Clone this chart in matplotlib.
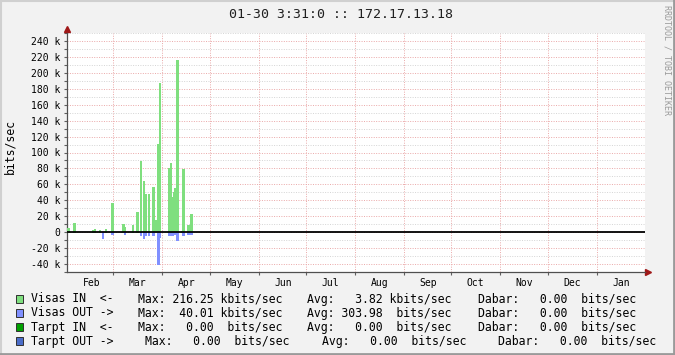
# RRDtool style traffic graph, one year, 172.17.13.18
import datetime
import numpy as np
import matplotlib
matplotlib.use("Agg")
import matplotlib.pyplot as plt
from matplotlib.patches import Rectangle
from matplotlib.lines import Line2D

# ---- data (kbits/sec, one bar per day counted from the graph start) ----
in_days = [0, 4, 16, 17, 20, 24, 28, 35, 36, 41, 44, 46, 48, 49, 51, 54, 56,
           57, 58, 64, 65, 66, 67, 68, 69, 72, 73, 76, 78]
in_vals = [5, 12, 3.3, 4.2, 2.9, 4.2, 36.8, 10.5, 6.7, 9.2, 25.5, 89.5, 64.4,
           48, 48, 57, 15.5, 111, 187.4, 80.8, 87, 44, 50.6, 55.6, 216.25,
           1.7, 79.5, 9.2, 23]
out_days = [22, 28, 36, 46, 48, 49, 51, 54, 57, 58, 64, 65, 66, 67, 68, 69,
            73, 76, 78]
out_vals = [6.7, 2, 2, 3, 7, 3, 3, 3, 40.01, 5.5, 4, 3.5, 3, 2.5, 2.5, 9.6,
            3, 2, 2]

start = datetime.datetime(2008, 1, 31, 17, 0)
ndays = 366
month_starts = [datetime.datetime(2008, m, 1) for m in range(3, 13)] + \
               [datetime.datetime(2009, 1, 1)]
label_months = [datetime.datetime(2008, m, 1) for m in range(2, 13)] + \
               [datetime.datetime(2009, 1, 1)]
month_names = ['Feb', 'Mar', 'Apr', 'May', 'Jun', 'Jul', 'Aug', 'Sep', 'Oct',
               'Nov', 'Dec', 'Jan']

title = "01-30 3:31:0 :: 172.17.13.18"
legend_names = ["Visas IN  <-", "Visas OUT ->", "Tarpt IN  <-", "Tarpt OUT ->"]
legend_max = ["Max: 216.25 kbits/sec", "Max:  40.01 kbits/sec",
              "Max:   0.00  bits/sec", "Max:   0.00  bits/sec"]
legend_avg = ["Avg:   3.82 kbits/sec", "Avg: 303.98  bits/sec",
              "Avg:   0.00  bits/sec", "Avg:   0.00  bits/sec"]
legend_cur = ["Dabar:   0.00  bits/sec"] * 4
legend_colors = ['#7fdf7f', '#8090ff', '#00a000', '#4a6cc8']

W, H = 675, 355
mono = 'DejaVu Sans Mono'
plt.rcParams['font.family'] = mono

def days_from_start(d):
    return (d - start).total_seconds() / 86400.0

fig = plt.figure(figsize=(W / 100, H / 100), dpi=100, facecolor='#f2f2f2')
ax = fig.add_axes([67 / W, 83 / H, 578 / W, 239 / H])
ax.set_facecolor('white')

# bars (pixel snapped, like rrdtool)
ax.bar(in_days, in_vals, width=1, align='edge', color=legend_colors[0],
       edgecolor=legend_colors[0], linewidth=0.4, antialiased=False, zorder=3)
ax.bar(out_days, -np.array(out_vals), width=1, align='edge', color=legend_colors[1],
       edgecolor=legend_colors[1], linewidth=0.4, antialiased=False, zorder=3)
ax.axhline(0, color='black', linewidth=1.3, zorder=4)

ax.set_xlim(0, ndays)
ax.set_ylim(-50, 250)

# y axis ticks / grid
ax.set_yticks(np.arange(-40, 241, 20))
ax.set_yticks(np.arange(-50, 251, 10), minor=True)
ax.set_yticklabels(['0' if v == 0 else '%d k' % v for v in np.arange(-40, 241, 20)])
ax.grid(axis='y', which='minor', color='#d4d4d4', linestyle=(0, (1, 1.5)), linewidth=0.7, zorder=1)
ax.grid(axis='y', which='major', color='#eaa8a8', linestyle=(0, (1, 1.5)), linewidth=0.7, zorder=2)

# x axis: grid at month starts, labels mid month
ax.set_xticks([days_from_start(d) for d in month_starts], minor=True)
ax.set_xticks([days_from_start(d) + 15.5 for d in label_months])
ax.set_xticklabels(month_names)
ax.grid(axis='x', which='minor', color='#eaa8a8', linestyle=(0, (1, 1.5)), linewidth=0.7, zorder=2)
ax.grid(axis='x', which='major', visible=False)

ax.tick_params(axis='y', which='both', length=2, width=0.8, color='#606060', pad=3, labelsize=7)
ax.tick_params(axis='x', which='major', length=0, pad=4, labelsize=7)
ax.tick_params(axis='x', which='minor', length=2, width=0.8, color='#606060')

for s in ['top', 'right']:
    ax.spines[s].set_visible(False)
for s in ['left', 'bottom']:
    ax.spines[s].set_color('#505050')
    ax.spines[s].set_linewidth(0.9)

# arrows at the end of the axes
ax.plot([0], [1.016], marker='^', color='#a01818', markersize=5, transform=ax.transAxes, clip_on=False)
ax.plot([1.006], [0], marker='>', color='#a01818', markersize=5, transform=ax.transAxes, clip_on=False)

# texts
fig.text(341 / W, 1 - 14 / H, title, ha='center', va='center', fontsize=9.5, color='#202020')
fig.text(10 / W, 1 - 147 / H, 'bits/sec', rotation=90, ha='center', va='center', fontsize=8.3)
fig.text(667 / W, 1 - 60 / H, 'RRDTOOL / TOBI OETIKER', rotation=270, ha='center', va='center',
         fontsize=6, color='#9a9a9a')

# legend rows
row_y = [299, 313, 327, 341]
col_x = [[137.7, 307.3, 477.7]] * 3 + [[145, 321.7, 498.3]]
for i in range(4):
    y = 1 - row_y[i] / H
    fig.patches.append(Rectangle((15.5 / W, y - 4 / H), 7.5 / W, 8 / H, transform=fig.transFigure,
                                 facecolor=legend_colors[i], edgecolor='#303030', linewidth=0.7))
    fig.text(31 / W, y, legend_names[i], va='center', fontsize=8.3)
    fig.text(col_x[i][0] / W, y, legend_max[i], va='center', fontsize=8.3)
    fig.text(col_x[i][1] / W, y, legend_avg[i], va='center', fontsize=8.3)
    fig.text(col_x[i][2] / W, y, legend_cur[i], va='center', fontsize=8.3)

# image border: light top/left, dark bottom/right
fig.lines.append(Line2D([0, 1], [1 - 1 / H, 1 - 1 / H], transform=fig.transFigure, color='#d0d0d0', linewidth=1.5))
fig.lines.append(Line2D([1 / W, 1 / W], [0, 1], transform=fig.transFigure, color='#d0d0d0', linewidth=1.5))
fig.lines.append(Line2D([0, 1], [1 / H, 1 / H], transform=fig.transFigure, color='#9a9a9a', linewidth=2))
fig.lines.append(Line2D([1 - 1 / W, 1 - 1 / W], [0, 1], transform=fig.transFigure, color='#9a9a9a', linewidth=2))

plt.savefig('out.png', dpi=100, facecolor=fig.get_facecolor())
